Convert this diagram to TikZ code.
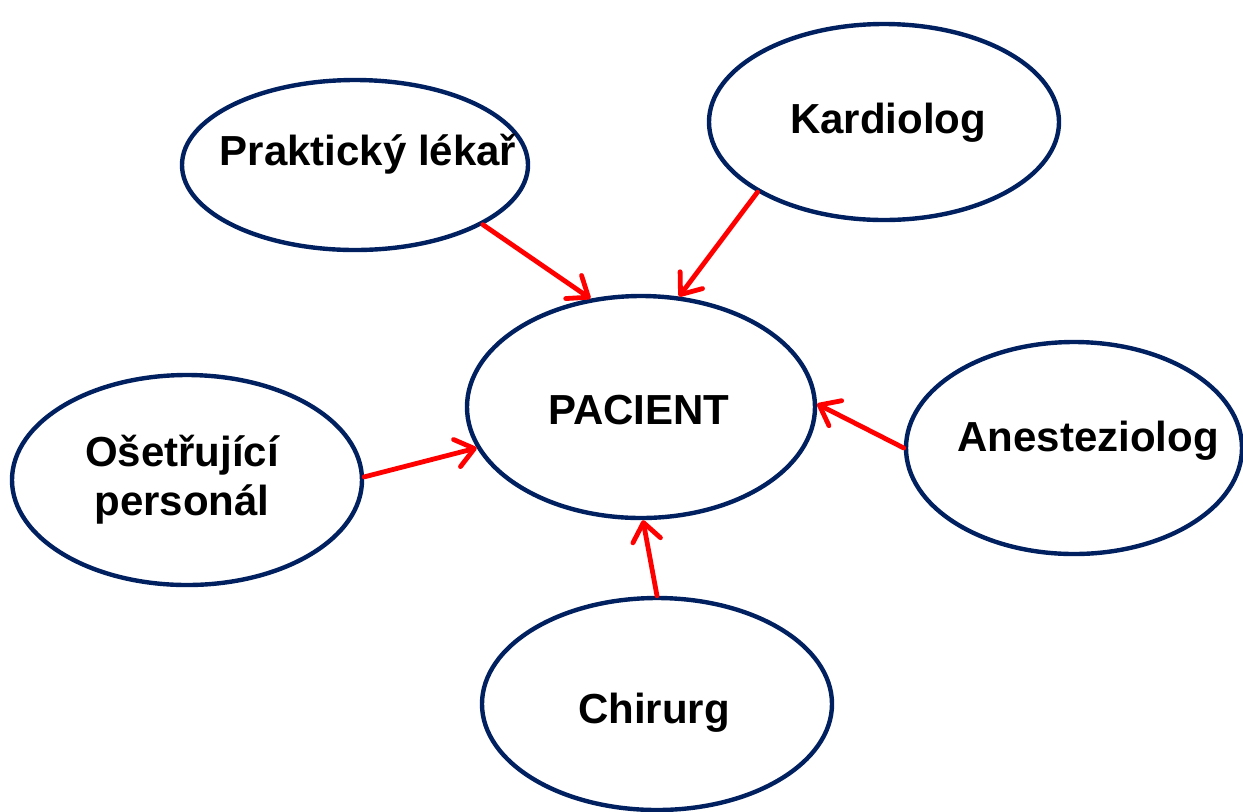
\documentclass[tikz,border=0pt]{standalone}
\usepackage{fontspec}
\setmainfont{Liberation Sans}
\usetikzlibrary{shapes.geometric,arrows.meta}
\definecolor{navy}{HTML}{002060}
\definecolor{arrred}{HTML}{FF0000}
\begin{document}
\begin{tikzpicture}[x=0.5pt,y=-0.5pt,
  oval/.style={ellipse,draw=navy,line width=2.2pt,inner sep=0pt,fill=white},
  lbl/.style={font=\fontsize{21pt}{24.5pt}\selectfont\bfseries,text=black,inner sep=0pt,align=center},
  conn/.style={draw=arrred,line width=2.4pt,line cap=round,-{Straight Barb[length=9pt,width=14pt,line cap=round,line join=round]}}]
\useasboundingbox (0,0) rectangle (1243,811);
\node[oval,minimum width=173pt,minimum height=85pt] (prak) at (355,165) {};
\node[oval,minimum width=175pt,minimum height=98pt] (kard) at (884,122) {};
\node[oval,minimum width=174pt,minimum height=111pt] (pac) at (641,407) {};
\node[oval,minimum width=175pt,minimum height=105pt] (oset) at (187,480) {};
\node[oval,minimum width=168pt,minimum height=106pt] (anes) at (1074,448) {};
\node[oval,minimum width=175pt,minimum height=106pt] (chir) at (657,704) {};
\node[lbl] (tprak) at (368,154) {Praktický lékař};
\node[lbl] (tkard) at (888,123) {Kardiolog};
\node[lbl] (tpac) at (639,410) {PACIENT};
\node[lbl] (toset) at (182,480) {Ošetřující\\personál};
\node[lbl] (tanes) at (1088,441) {Anesteziolog};
\node[lbl] (tchir) at (654,713) {Chirurg};
\draw[conn] (prak.-25) -- (pac.115);
\draw[conn] (kard.-151) -- (pac.71);
\draw[conn] (oset.1) -- (pac.194);
\draw[conn] (anes.180) -- (pac.1);
\draw[conn] (chir.90) -- (pac.-89);
\end{tikzpicture}
\end{document}
